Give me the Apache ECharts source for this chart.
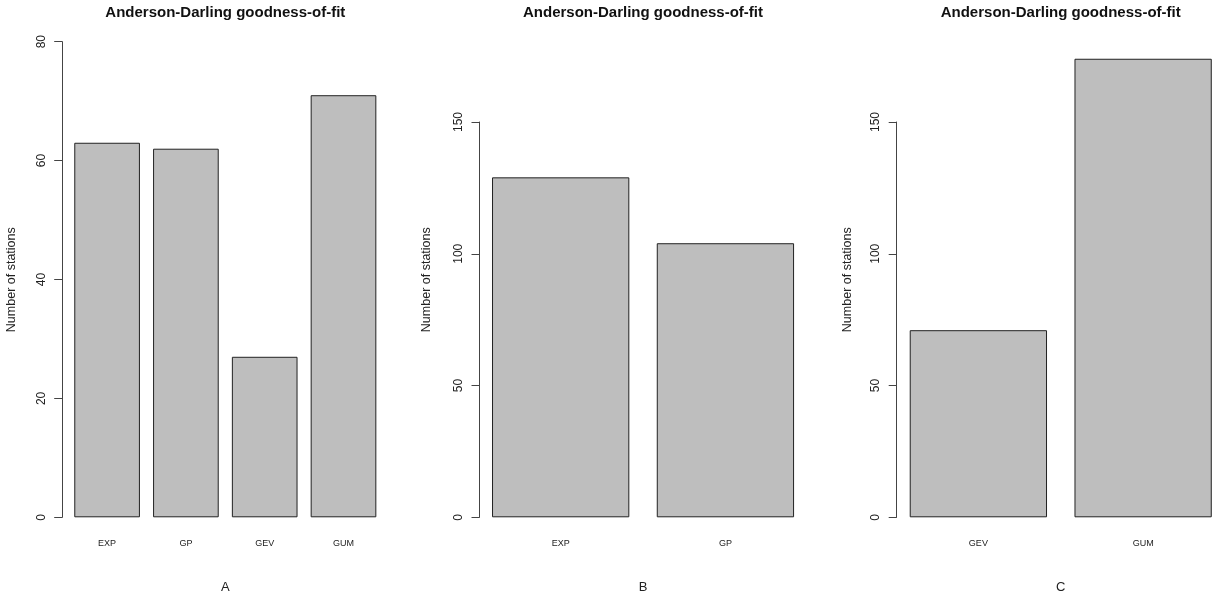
<!DOCTYPE html>
<html>
<head>
<meta charset="utf-8">
<script src="https://cdn.jsdelivr.net/npm/echarts@6/dist/echarts.min.js"></script>
<style>
html,body{margin:0;padding:0;background:#fff;}
#chart{width:1212px;height:595px;}
</style>
</head>
<body>
<div id="chart"></div>
<script>
// ---- data ----
const chartTitle = 'Anderson-Darling goodness-of-fit';
const yAxisName = 'Number of stations';
const panelLetters = ['A', 'B', 'C'];
const categoriesA = ['EXP', 'GP', 'GEV', 'GUM'];
const valuesA = [63, 62, 27, 71];
const categoriesB = ['EXP', 'GP'];
const valuesB = [129, 104];
const categoriesC = ['GEV', 'GUM'];
const valuesC = [71, 174];
const yMaxes = [80, 150, 150];
const yIntervals = [20, 50, 50];

// ---- layout ----
const FONT = '"Liberation Sans", Arial, sans-serif';
const grids = [
  { left: 67.7, top: 41.7, width: 315.2, height: 475.6 },
  { left: 478.3, top: 122, width: 329.5, height: 395.3 },
  { left: 896, top: 122, width: 329.5, height: 395.3 }
];
const yOffsets = [5.5, -1.2, -0.7];
const yNameX = [11.7, 427, 848];
const yNameY = 279.7;
const titleX = [225.3, 643, 1060.7];

const cats = [categoriesA, categoriesB, categoriesC];
const vals = [valuesA, valuesB, valuesC];

const axisColor = '#444';

const option = {
  animation: false,
  backgroundColor: '#fff',
  grid: grids.map(g => Object.assign({ containLabel: false, outerBoundsMode: 'none' }, g)),
  xAxis: cats.map((c, i) => ({
    type: 'category',
    gridIndex: i,
    data: c,
    boundaryGap: true,
    axisLine: { show: false },
    axisTick: { show: false },
    axisLabel: { fontFamily: FONT, fontSize: 9, color: '#222', margin: 22 },
    name: panelLetters[i],
    nameLocation: 'middle',
    nameGap: 64,
    nameTextStyle: { fontFamily: FONT, fontSize: 13, color: '#222' }
  })),
  yAxis: yMaxes.map((m, i) => ({
    type: 'value',
    gridIndex: i,
    min: 0,
    max: m,
    interval: yIntervals[i],
    offset: yOffsets[i],
    splitLine: { show: false },
    axisLine: { show: true, lineStyle: { color: axisColor, width: 1 } },
    axisTick: { show: true, length: 8, lineStyle: { color: axisColor, width: 1 } },
    axisLabel: { rotate: 90, margin: 15, fontFamily: FONT, fontSize: 12, color: '#222' }
  })),
  series: vals.map((v, i) => ({
    type: 'bar',
    xAxisIndex: i,
    yAxisIndex: i,
    data: v,
    clip: false,
    barCategoryGap: '16.667%',
    itemStyle: { color: '#bebebe', borderColor: '#222', borderWidth: 1 }
  })),
  graphic: [
    ...titleX.map(x => ({
      type: 'text', x: x, y: 13,
      style: { text: chartTitle, font: 'bold 15px ' + FONT, fill: '#111',
        align: 'center', verticalAlign: 'middle', textAlign: 'center', textVerticalAlign: 'middle' }
    })),
    ...yNameX.map(x => ({
      type: 'text', x: x, y: yNameY, rotation: Math.PI / 2,
      style: { text: yAxisName, font: '12.5px ' + FONT, fill: '#222',
        align: 'center', verticalAlign: 'middle', textAlign: 'center', textVerticalAlign: 'middle' }
    }))
  ]
};

const chart = echarts.init(document.getElementById('chart'), null, { renderer: 'canvas' });
chart.setOption(option);
</script>
</body>
</html>
